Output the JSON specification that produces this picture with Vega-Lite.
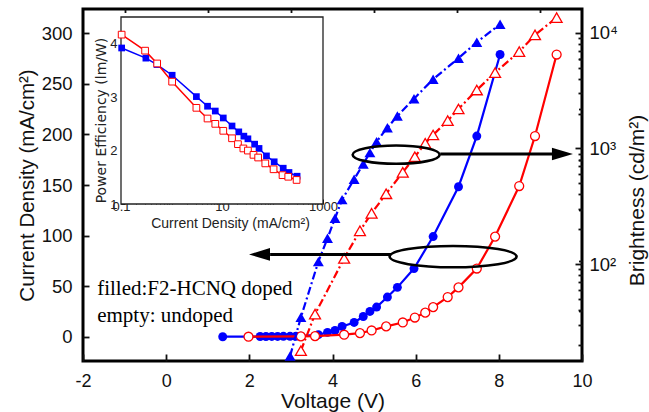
{
  "$schema": "https://vega.github.io/schema/vega-lite/v6.json",
  "width": 499,
  "height": 352,
  "autosize": "none",
  "padding": {"left": 83, "top": 9, "right": 67, "bottom": 51},
  "background": "white",
  "config": {
    "view": {"stroke": "black", "strokeWidth": 3},
    "axis": {"grid": false, "domain": false, "labelFont": "Liberation Sans", "titleFont": "Liberation Sans", "labelColor": "#111", "titleColor": "#111", "tickColor": "#111", "titleFontWeight": "normal", "labelOverlap": false, "labelFlush": false, "tickWidth": 1.8}
  },
  "datasets": {
    "jv": [
      {"s": "doped", "V": 1.36, "J": 0},
      {"s": "doped", "V": 2.26, "J": 0.2},
      {"s": "doped", "V": 2.40, "J": 0.2},
      {"s": "doped", "V": 2.54, "J": 0.3},
      {"s": "doped", "V": 2.68, "J": 0.3},
      {"s": "doped", "V": 2.82, "J": 0.4},
      {"s": "doped", "V": 2.98, "J": 0.4},
      {"s": "doped", "V": 3.12, "J": 0.5},
      {"s": "doped", "V": 3.24, "J": 0.6},
      {"s": "doped", "V": 3.66, "J": 2.0},
      {"s": "doped", "V": 3.88, "J": 4.3},
      {"s": "doped", "V": 4.06, "J": 6.2},
      {"s": "doped", "V": 4.23, "J": 10.2},
      {"s": "doped", "V": 4.52, "J": 14.1},
      {"s": "doped", "V": 4.74, "J": 20.0},
      {"s": "doped", "V": 4.90, "J": 25.0},
      {"s": "doped", "V": 5.06, "J": 29.3},
      {"s": "doped", "V": 5.32, "J": 39.2},
      {"s": "doped", "V": 5.56, "J": 48.8},
      {"s": "doped", "V": 5.96, "J": 67.4},
      {"s": "doped", "V": 6.42, "J": 99.0},
      {"s": "doped", "V": 7.03, "J": 148.3},
      {"s": "doped", "V": 7.47, "J": 198.4},
      {"s": "doped", "V": 8.03, "J": 279},
      {"s": "undoped", "V": 1.98, "J": 0},
      {"s": "undoped", "V": 3.24, "J": 0.3},
      {"s": "undoped", "V": 3.58, "J": 0.6},
      {"s": "undoped", "V": 4.28, "J": 2.0},
      {"s": "undoped", "V": 4.66, "J": 3.6},
      {"s": "undoped", "V": 4.94, "J": 6.2},
      {"s": "undoped", "V": 5.29, "J": 10.2},
      {"s": "undoped", "V": 5.69, "J": 14.1},
      {"s": "undoped", "V": 5.98, "J": 19.0},
      {"s": "undoped", "V": 6.23, "J": 23.8},
      {"s": "undoped", "V": 6.42, "J": 29.3},
      {"s": "undoped", "V": 6.77, "J": 39.2},
      {"s": "undoped", "V": 7.03, "J": 48.8},
      {"s": "undoped", "V": 7.47, "J": 67.4},
      {"s": "undoped", "V": 7.91, "J": 99.0},
      {"s": "undoped", "V": 8.49, "J": 149},
      {"s": "undoped", "V": 8.87, "J": 198.4},
      {"s": "undoped", "V": 9.39, "J": 279}
    ],
    "lv": [
      {"s": "doped", "V": 2.98, "B": 16.0},
      {"s": "doped", "V": 3.24, "B": 34.6},
      {"s": "doped", "V": 3.66, "B": 105},
      {"s": "doped", "V": 3.88, "B": 167},
      {"s": "doped", "V": 4.06, "B": 249},
      {"s": "doped", "V": 4.23, "B": 361},
      {"s": "doped", "V": 4.52, "B": 541},
      {"s": "doped", "V": 4.74, "B": 734},
      {"s": "doped", "V": 4.90, "B": 921},
      {"s": "doped", "V": 5.06, "B": 1146},
      {"s": "doped", "V": 5.32, "B": 1514},
      {"s": "doped", "V": 5.56, "B": 1910},
      {"s": "doped", "V": 5.96, "B": 2698},
      {"s": "doped", "V": 6.42, "B": 3970},
      {"s": "doped", "V": 7.03, "B": 6040},
      {"s": "doped", "V": 7.47, "B": 8300},
      {"s": "doped", "V": 8.03, "B": 11880},
      {"s": "undoped", "V": 3.24, "B": 17.8},
      {"s": "undoped", "V": 3.58, "B": 36.9},
      {"s": "undoped", "V": 4.28, "B": 112},
      {"s": "undoped", "V": 4.66, "B": 194},
      {"s": "undoped", "V": 4.94, "B": 275},
      {"s": "undoped", "V": 5.29, "B": 406},
      {"s": "undoped", "V": 5.69, "B": 622},
      {"s": "undoped", "V": 5.98, "B": 849},
      {"s": "undoped", "V": 6.23, "B": 1109},
      {"s": "undoped", "V": 6.42, "B": 1309},
      {"s": "undoped", "V": 6.77, "B": 1742},
      {"s": "undoped", "V": 7.03, "B": 2198},
      {"s": "undoped", "V": 7.47, "B": 3206},
      {"s": "undoped", "V": 7.91, "B": 4530},
      {"s": "undoped", "V": 8.49, "B": 6890},
      {"s": "undoped", "V": 8.87, "B": 9610},
      {"s": "undoped", "V": 9.39, "B": 13550}
    ],
    "pe": [
      {"s": "doped", "J": 0.103, "PE": 3.92},
      {"s": "doped", "J": 0.311, "PE": 3.73},
      {"s": "doped", "J": 0.516, "PE": 3.61},
      {"s": "doped", "J": 1.03, "PE": 3.41},
      {"s": "doped", "J": 3.11, "PE": 3.01},
      {"s": "doped", "J": 5.17, "PE": 2.83},
      {"s": "doped", "J": 7.36, "PE": 2.74},
      {"s": "doped", "J": 10.6, "PE": 2.61},
      {"s": "doped", "J": 15.8, "PE": 2.46},
      {"s": "doped", "J": 21.5, "PE": 2.35},
      {"s": "doped", "J": 27.1, "PE": 2.27},
      {"s": "doped", "J": 32.6, "PE": 2.22},
      {"s": "doped", "J": 44.3, "PE": 2.12},
      {"s": "doped", "J": 54.1, "PE": 2.04},
      {"s": "doped", "J": 75.9, "PE": 1.90},
      {"s": "doped", "J": 108, "PE": 1.79},
      {"s": "doped", "J": 163, "PE": 1.67},
      {"s": "doped", "J": 212, "PE": 1.59},
      {"s": "doped", "J": 307, "PE": 1.52},
      {"s": "undoped", "J": 0.103, "PE": 4.17},
      {"s": "undoped", "J": 0.30, "PE": 3.87},
      {"s": "undoped", "J": 0.52, "PE": 3.63},
      {"s": "undoped", "J": 1.03, "PE": 3.29},
      {"s": "undoped", "J": 3.11, "PE": 2.80},
      {"s": "undoped", "J": 5.17, "PE": 2.60},
      {"s": "undoped", "J": 7.36, "PE": 2.50},
      {"s": "undoped", "J": 10.6, "PE": 2.37},
      {"s": "undoped", "J": 15.8, "PE": 2.23},
      {"s": "undoped", "J": 20.7, "PE": 2.12},
      {"s": "undoped", "J": 26.5, "PE": 2.04},
      {"s": "undoped", "J": 32.6, "PE": 2.00},
      {"s": "undoped", "J": 42, "PE": 1.92},
      {"s": "undoped", "J": 52, "PE": 1.87},
      {"s": "undoped", "J": 72, "PE": 1.76},
      {"s": "undoped", "J": 105, "PE": 1.65},
      {"s": "undoped", "J": 158, "PE": 1.54},
      {"s": "undoped", "J": 205, "PE": 1.51},
      {"s": "undoped", "J": 300, "PE": 1.45}
    ]
  },
  "resolve": {
    "scale": {"x": "independent", "y": "independent", "shape": "independent"},
    "axis": {"x": "independent", "y": "independent"}
  },
  "layer": [
    {
      "data": {"name": "jv"},
      "transform": [{"filter": "datum.s == 'doped'"}],
      "mark": {"type": "line", "color": "#0000ff", "strokeWidth": 2.2, "point": {"filled": true, "color": "#0000ff", "size": 80}},
      "encoding": {
        "x": {"field": "V", "type": "quantitative", "scale": {"domain": [-2, 10], "nice": false},
          "axis": {"values": [-2, 0, 2, 4, 6, 8, 10], "labelExpr": "datum.value < 0 ? '-' + abs(datum.value) : '' + datum.value", "tickSize": -7, "labelPadding": 18, "labelFontSize": 18, "title": "Voltage (V)", "titleFontSize": 21, "titleY": 40, "titleBaseline": "middle"}},
        "y": {"field": "J", "type": "quantitative", "scale": {"domain": [-24, 324], "nice": false},
          "axis": {"values": [0, 50, 100, 150, 200, 250, 300], "tickSize": -6, "labelPadding": 17, "labelFontSize": 18.5, "title": "Current Density (mA/cm²)", "titleFontSize": 20.5, "titlePadding": 4}}
      }
    },
    {
      "data": {"name": "jv"},
      "transform": [{"filter": "datum.s == 'undoped'"}],
      "mark": {"type": "line", "color": "#ff0000", "strokeWidth": 2.2, "point": {"filled": false, "fill": "white", "stroke": "#ff0000", "strokeWidth": 1.3, "size": 80}},
      "encoding": {
        "x": {"field": "V", "type": "quantitative", "scale": {"domain": [-2, 10], "nice": false},
          "axis": {"values": [-1, 1, 3, 5, 7, 9], "tickSize": -3.5, "labels": false, "title": null}},
        "y": {"field": "J", "type": "quantitative", "scale": {"domain": [-24, 324], "nice": false},
          "axis": {"values": [25, 75, 125, 175, 225, 275], "tickSize": -3.5, "labels": false, "title": null}}
      }
    },
    {
      "data": {"name": "lv"},
      "transform": [{"filter": "datum.s == 'doped'"}],
      "mark": {"type": "line", "color": "#0000ff", "strokeWidth": 2.2, "strokeDash": [8, 3, 2, 3], "point": {"filled": true, "color": "#0000ff", "shape": "triangle-up", "size": 120}},
      "encoding": {
        "x": {"field": "V", "type": "quantitative", "scale": {"domain": [-2, 10], "nice": false}, "axis": null},
        "y": {"field": "B", "type": "quantitative", "scale": {"type": "log", "domain": [14.5, 16100], "nice": false},
          "axis": {"orient": "right", "values": [100, 1000, 10000], "labelExpr": "datum.value == 100 ? '10²' : (datum.value == 1000 ? '10³' : '10⁴')", "tickSize": -7, "labelPadding": 14, "labelFontSize": 18.5, "title": "Brightness (cd/m²)", "titleFontSize": 21, "titleAngle": 270, "titleX": 55, "titleY": 191, "titleBaseline": "middle", "titleAlign": "center"}}
      }
    },
    {
      "data": {"name": "lv"},
      "transform": [{"filter": "datum.s == 'undoped'"}],
      "mark": {"type": "line", "color": "#ff0000", "strokeWidth": 2.2, "strokeDash": [8, 3, 2, 3], "point": {"filled": false, "fill": "white", "stroke": "#ff0000", "strokeWidth": 1.3, "strokeDash": [1, 0], "shape": "triangle-up", "size": 120}},
      "encoding": {
        "x": {"field": "V", "type": "quantitative", "scale": {"domain": [-2, 10], "nice": false}, "axis": null},
        "y": {"field": "B", "type": "quantitative", "scale": {"type": "log", "domain": [14.5, 16100], "nice": false},
          "axis": {"orient": "right", "values": [20, 30, 40, 50, 60, 70, 80, 90, 200, 300, 400, 500, 600, 700, 800, 900, 2000, 3000, 4000, 5000, 6000, 7000, 8000, 9000], "tickSize": -4, "labels": false, "title": null}}
      }
    },
    {
      "data": {"values": [{}]},
      "mark": {"type": "rect", "fill": "white", "stroke": "#222", "strokeWidth": 1.3},
      "encoding": {
        "x": {"datum": 0.1, "type": "quantitative", "scale": {"type": "log", "domain": [0.1, 1000], "range": [38, 240], "nice": false}, "axis": null},
        "x2": {"datum": 1000},
        "y": {"datum": 1, "type": "quantitative", "scale": {"domain": [1, 4.5], "range": [195, 8], "nice": false, "zero": false}, "axis": null},
        "y2": {"datum": 4.5}
      }
    },
    {
      "data": {"name": "pe"},
      "transform": [{"filter": "datum.s == 'doped'"}],
      "mark": {"type": "line", "color": "#0000ff", "strokeWidth": 1.5, "point": {"filled": true, "color": "#0000ff", "shape": "square", "size": 45}},
      "encoding": {
        "x": {"field": "J", "type": "quantitative", "scale": {"type": "log", "domain": [0.1, 1000], "range": [38, 240], "nice": false},
          "axis": {"orient": "bottom", "offset": -157, "values": [0.1, 1, 10, 100, 1000], "labelExpr": "datum.value == 0.1 ? '0.1' : (datum.value == 10 ? '10' : (datum.value == 1000 ? '1000' : ''))", "tickSize": -5, "tickWidth": 1, "labelPadding": 1, "labelFontSize": 13, "labelColor": "#222", "title": "Current Density (mA/cm²)", "titleFontSize": 14, "titleColor": "#222", "titleX": 147, "titleY": 19, "titleBaseline": "middle"}},
        "y": {"field": "PE", "type": "quantitative", "scale": {"domain": [1, 4.5], "range": [195, 8], "nice": false, "zero": false},
          "axis": {"orient": "left", "offset": -38, "values": [1, 2, 3, 4], "tickSize": -4, "tickWidth": 1, "labelPadding": 8, "labelFontSize": 13, "labelColor": "#222", "title": "Power Efficiency (lm/W)", "titleFont": "DejaVu Sans", "titleFontSize": 14, "titleColor": "#222", "titleX": -20, "titleY": 111, "titleBaseline": "middle", "titleAlign": "center"}}
      }
    },
    {
      "data": {"name": "pe"},
      "transform": [{"filter": "datum.s == 'undoped'"}],
      "mark": {"type": "line", "color": "#ff0000", "strokeWidth": 1.5, "point": {"filled": false, "fill": "white", "stroke": "#ff0000", "strokeWidth": 1, "shape": "square", "size": 45}},
      "encoding": {
        "x": {"field": "J", "type": "quantitative", "scale": {"type": "log", "domain": [0.1, 1000], "range": [38, 240], "nice": false},
          "axis": {"orient": "bottom", "offset": -157, "values": [0.2, 0.3, 0.4, 0.5, 0.6, 0.7, 0.8, 0.9, 2, 3, 4, 5, 6, 7, 8, 9, 20, 30, 40, 50, 60, 70, 80, 90, 200, 300, 400, 500, 600, 700, 800, 900], "tickSize": -3, "tickWidth": 1, "labels": false, "title": null}},
        "y": {"field": "PE", "type": "quantitative", "scale": {"domain": [1, 4.5], "range": [195, 8], "nice": false, "zero": false}, "axis": null}
      }
    },
    {
      "data": {"values": [{"V": 5.53, "J": 180}]},
      "mark": {"type": "point", "filled": false, "stroke": "black", "strokeWidth": 2.6, "opacity": 1, "size": 7569, "shape": "M -1 0 C -1 -0.116 -0.552 -0.21 0 -0.21 C 0.552 -0.21 1 -0.116 1 0 C 1 0.116 0.552 0.21 0 0.21 C -0.552 0.21 -1 0.116 -1 0 Z"},
      "encoding": {
        "x": {"field": "V", "type": "quantitative", "scale": {"domain": [-2, 10], "nice": false}, "axis": null},
        "y": {"field": "J", "type": "quantitative", "scale": {"domain": [-24, 324], "nice": false}, "axis": null}
      }
    },
    {
      "data": {"values": [{"V": 6.90, "J": 79.2}]},
      "mark": {"type": "point", "filled": false, "stroke": "black", "strokeWidth": 2.6, "opacity": 1, "size": 16129, "shape": "M -1 0 C -1 -0.093 -0.552 -0.168 0 -0.168 C 0.552 -0.168 1 -0.093 1 0 C 1 0.093 0.552 0.168 0 0.168 C -0.552 0.168 -1 0.093 -1 0 Z"},
      "encoding": {
        "x": {"field": "V", "type": "quantitative", "scale": {"domain": [-2, 10], "nice": false}, "axis": null},
        "y": {"field": "J", "type": "quantitative", "scale": {"domain": [-24, 324], "nice": false}, "axis": null}
      }
    },
    {
      "data": {"values": [{"V1": 6.59, "V2": 9.47, "J": 180.6}, {"V1": 5.41, "V2": 2.50, "J": 81.4}]},
      "mark": {"type": "rule", "color": "black", "strokeWidth": 3},
      "encoding": {
        "x": {"field": "V1", "type": "quantitative", "scale": {"domain": [-2, 10], "nice": false}, "axis": null},
        "x2": {"field": "V2"},
        "y": {"field": "J", "type": "quantitative", "scale": {"domain": [-24, 324], "nice": false}, "axis": null}
      }
    },
    {
      "data": {"values": [{"V": 9.53, "J": 180.6, "dir": "right"}, {"V": 2.245, "J": 81.4, "dir": "left"}]},
      "mark": {"type": "point", "filled": true, "color": "black", "opacity": 1, "size": 441},
      "encoding": {
        "x": {"field": "V", "type": "quantitative", "scale": {"domain": [-2, 10], "nice": false}, "axis": null},
        "y": {"field": "J", "type": "quantitative", "scale": {"domain": [-24, 324], "nice": false}, "axis": null},
        "shape": {"field": "dir", "type": "nominal", "scale": {"domain": ["right", "left"], "range": ["M 1 0 L -1 -0.6 L -1 0.6 Z", "M -1 0 L 1 -0.6 L 1 0.6 Z"]}, "legend": null}
      }
    },
    {
      "data": {"values": [{"V": -1.66, "J": 47.4, "t": "filled:F2-HCNQ doped"}, {"V": -1.66, "J": 20.7, "t": "empty: undoped"}]},
      "mark": {"type": "text", "align": "left", "baseline": "middle", "font": "Liberation Serif", "fontSize": 21, "color": "black"},
      "encoding": {
        "x": {"field": "V", "type": "quantitative", "scale": {"domain": [-2, 10], "nice": false}, "axis": null},
        "y": {"field": "J", "type": "quantitative", "scale": {"domain": [-24, 324], "nice": false}, "axis": null},
        "text": {"field": "t"}
      }
    }
  ]
}
